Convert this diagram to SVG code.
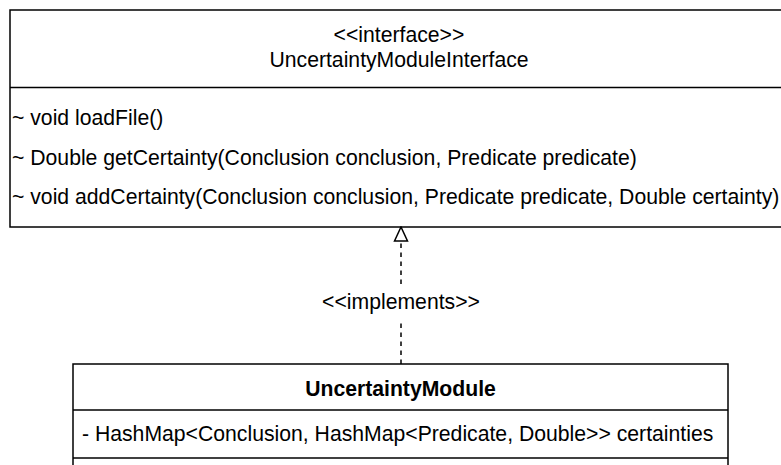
<svg xmlns="http://www.w3.org/2000/svg" width="781" height="465" viewBox="0 0 781 465">
  <style>
    .box { fill: #ffffff; stroke: #000000; stroke-width: 1.5; }
    .sep { stroke: #000000; stroke-width: 1.5; fill: none; }
    .txt { font-family: "Liberation Sans", Arial, sans-serif; font-size: 21.2px; fill: #000000; }
    .mid { text-anchor: middle; }
    .bold { font-weight: bold; }
    .dash { stroke: #000000; stroke-width: 1.5; stroke-dasharray: 4.5 4.5; fill: none; }
  </style>
  <defs>
    <!-- hollow triangle for realization -->
    <marker id="realize" viewBox="0 0 16 16" refX="15" refY="8" markerWidth="16" markerHeight="16" markerUnits="userSpaceOnUse" orient="auto">
      <path d="M1,1.5 L15,8 L1,14.5 Z" fill="#ffffff" stroke="#000000" stroke-width="1.5"/>
    </marker>
  </defs>
  <rect width="781" height="465" fill="#ffffff"/>

  <!-- interface class -->
  <g id="UncertaintyModuleInterface">
    <rect class="box" x="10" y="10" width="780" height="217"/>
    <line class="sep" x1="10" y1="87.5" x2="790" y2="87.5"/>
    <text class="txt mid" x="399" y="42">&lt;&lt;interface&gt;&gt;</text>
    <text class="txt mid" x="399" y="67">UncertaintyModuleInterface</text>
    <text class="txt" x="12" y="125">~ void loadFile()</text>
    <text class="txt" x="12" y="165">~ Double getCertainty(Conclusion conclusion, Predicate predicate)</text>
    <text class="txt" x="12" y="204">~ void addCertainty(Conclusion conclusion, Predicate predicate, Double certainty)</text>
  </g>

  <!-- implementing class -->
  <g id="UncertaintyModule">
    <rect class="box" x="73" y="364" width="655" height="120"/>
    <line class="sep" x1="73" y1="410" x2="728" y2="410"/>
    <line class="sep" x1="73" y1="458" x2="728" y2="458"/>
    <text class="txt mid bold" x="400.5" y="396">UncertaintyModule</text>
    <text class="txt" x="82" y="441">- HashMap&lt;Conclusion, HashMap&lt;Predicate, Double&gt;&gt; certainties</text>
  </g>

  <!-- realization connector -->
  <g id="connectors">
    <line class="dash" x1="401" y1="364" x2="401" y2="320"/>
    <line class="dash" x1="401" y1="284" x2="401" y2="227" marker-end="url(#realize)"/>
    <text class="txt mid" x="401" y="309">&lt;&lt;implements&gt;&gt;</text>
  </g>
</svg>
